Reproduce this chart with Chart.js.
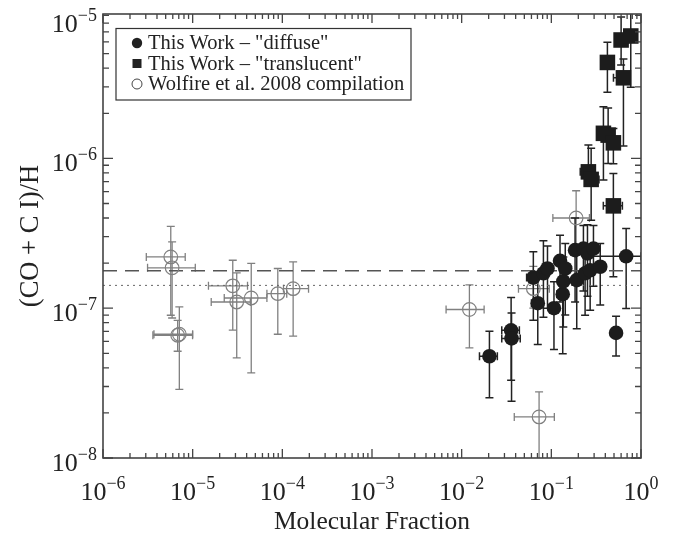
<!DOCTYPE html>
<html>
<head>
<meta charset="utf-8">
<script src="https://cdn.jsdelivr.net/npm/chart.js@4.4.0/dist/chart.umd.min.js"></script>
<style>
  html, body { margin: 0; padding: 0; background: #fff; }
  canvas { display: block; }
</style>
</head>
<body>
<canvas id="chart" width="687" height="541"></canvas>
<script>
// axis ranges
const xMin = 1e-6, xMax = 1;
const yMin = 1e-8, yMax = 9.2e-6;
const xTickExp = [-6, -5, -4, -3, -2, -1, 0];
const yTickExp = [-8, -7, -6, -5];

// This Work - "diffuse"
const diffuseX   = [2.04e-2, 3.56e-2, 3.6e-2, 7.06e-2, 0.107, 0.134, 6.3e-2, 8.16e-2, 9.06e-2, 0.125, 0.143, 0.136, 0.184, 0.228, 0.253, 0.295, 0.192, 0.238, 0.271, 0.351, 0.683, 0.527];
const diffuseY   = [4.78e-8, 7.12e-8, 6.28e-8, 1.08e-7, 1.0e-7, 1.24e-7, 1.6e-7, 1.71e-7, 1.84e-7, 2.07e-7, 1.84e-7, 1.51e-7, 2.44e-7, 2.5e-7, 2.32e-7, 2.5e-7, 1.54e-7, 1.71e-7, 1.79e-7, 1.89e-7, 2.22e-7, 6.84e-8];
const diffuseYLo = [2.52e-8, 3.3e-8, 2.39e-8, 5.72e-8, 5.3e-8, 4.97e-8, 8.3e-8, 8.7e-8, 1.0e-7, 1.1e-7, 9.0e-8, 7.5e-8, 1.1e-7, 1.3e-7, 1.2e-7, 1.4e-7, 7.3e-8, 8.97e-8, 9.7e-8, 1.05e-7, 9.95e-8, 4.8e-8];
const diffuseYHi = [7.02e-8, 1.18e-7, 9.3e-8, 1.6e-7, 1.5e-7, 1.9e-7, 2.38e-7, 2.82e-7, 2.6e-7, 3.07e-7, 2.7e-7, 2.2e-7, 4.0e-7, 3.57e-7, 3.6e-7, 3.57e-7, 2.6e-7, 2.5e-7, 2.6e-7, 2.7e-7, 3.4e-7, 8.85e-8];
const diffuseXLo = [1.58e-2, 2.8e-2, 2.8e-2, 6.0e-2, 0.107, 0.115, 5.3e-2, 8.16e-2, 9.06e-2, 0.125, 0.143, 0.136, 0.184, 0.228, 0.253, 0.295, 0.192, 0.238, 0.271, 0.351, 0.27, 0.527];
const diffuseXHi = [2.5e-2, 4.4e-2, 4.5e-2, 8.0e-2, 0.107, 0.15, 6.3e-2, 8.16e-2, 9.06e-2, 0.125, 0.143, 0.136, 0.184, 0.228, 0.253, 0.295, 0.192, 0.238, 0.271, 0.351, 1.0, 0.527];

// This Work - "translucent"
const transX   = [0.422, 0.60, 0.769, 0.637, 0.381, 0.43, 0.492, 0.492, 0.259, 0.278];
const transY   = [4.37e-6, 6.17e-6, 6.56e-6, 3.45e-6, 1.47e-6, 1.43e-6, 1.27e-6, 4.82e-7, 8.13e-7, 7.24e-7];
const transYLo = [2.76e-6, 4.2e-6, 2.98e-6, 1.21e-6, 7.16e-7, 9.24e-7, 9.2e-7, 1.62e-7, 6.8e-7, 3.86e-7];
const transYHi = [5.96e-6, 8.8e-6, 1.2e-5, 4.6e-6, 2.21e-6, 2.17e-6, 1.58e-6, 7.94e-7, 1.23e-6, 1.17e-6];
const transXLo = [0.422, 0.60, 0.769, 0.493, 0.381, 0.43, 0.492, 0.38, 0.21, 0.278];
const transXHi = [0.422, 0.60, 0.769, 0.72, 0.381, 0.43, 0.492, 0.62, 0.259, 0.34];

// Wolfire et al. 2008 compilation
const wolfX   = [5.7e-6, 5.9e-6, 6.8e-6, 7.1e-6, 2.8e-5, 3.1e-5, 4.5e-5, 8.9e-5, 1.32e-4, 1.22e-2, 6.3e-2, 7.3e-2, 0.189];
const wolfY   = [2.2e-7, 1.86e-7, 6.6e-8, 6.7e-8, 1.41e-7, 1.10e-7, 1.17e-7, 1.25e-7, 1.35e-7, 9.8e-8, 1.35e-7, 1.88e-8, 4.0e-7];
const wolfYLo = [8.97e-8, 8.6e-8, 5.16e-8, 2.87e-8, 7.13e-8, 4.66e-8, 3.7e-8, 6.7e-8, 6.5e-8, 5.43e-8, 1.0e-7, 5e-9, 2.6e-7];
const wolfYHi = [3.52e-7, 2.77e-7, 8.3e-8, 1.02e-7, 2.09e-7, 1.72e-7, 1.99e-7, 1.84e-7, 2.04e-7, 1.43e-7, 1.9e-7, 2.76e-8, 6.08e-7];
const wolfXLo = [3.04e-6, 3.14e-6, 3.6e-6, 3.7e-6, 1.5e-5, 1.61e-5, 2.25e-5, 6.73e-5, 1.03e-4, 6.7e-3, 4.3e-2, 3.86e-2, 0.104];
const wolfXHi = [8.26e-6, 1.07e-5, 9.97e-6, 1.0e-5, 4.09e-5, 4.4e-5, 6.73e-5, 1.12e-4, 1.96e-4, 1.78e-2, 9.5e-2, 0.108, 0.266];

// reference levels
const refLineX = [1e-6, 1];
const dashedLevel = 1.78e-7;
const dottedLevel = 1.42e-7;

const SERIF = "'Liberation Serif', 'Times New Roman', serif";
const INK = '#222';
const GRAY = '#808080';

function pts(xs, ys) { return xs.map((x, i) => ({x: x, y: ys[i]})); }

const errSets = [
  {x: wolfX, y: wolfY, xlo: wolfXLo, xhi: wolfXHi, ylo: wolfYLo, yhi: wolfYHi, color: GRAY, width: 1.3},
  {x: transX, y: transY, xlo: transXLo, xhi: transXHi, ylo: transYLo, yhi: transYHi, color: INK, width: 1.5},
  {x: diffuseX, y: diffuseY, xlo: diffuseXLo, xhi: diffuseXHi, ylo: diffuseYLo, yhi: diffuseYHi, color: INK, width: 1.5}
];

const errorBars = {
  id: 'errorBars',
  beforeDatasetsDraw(chart) {
    const ctx = chart.ctx, a = chart.chartArea;
    const xs = chart.scales.x, ys = chart.scales.y;
    const cap = 4;
    ctx.save();
    ctx.beginPath();
    ctx.rect(a.left, a.top, a.right - a.left, a.bottom - a.top);
    ctx.clip();
    errSets.forEach(s => {
      ctx.strokeStyle = s.color;
      ctx.lineWidth = s.width;
      s.x.forEach((xv, i) => {
        const px = xs.getPixelForValue(xv), py = ys.getPixelForValue(s.y[i]);
        const y1 = ys.getPixelForValue(s.ylo[i]), y2 = ys.getPixelForValue(s.yhi[i]);
        const x1 = xs.getPixelForValue(s.xlo[i]), x2 = xs.getPixelForValue(s.xhi[i]);
        ctx.beginPath();
        ctx.moveTo(px, y1); ctx.lineTo(px, y2);
        ctx.moveTo(px - cap, y1); ctx.lineTo(px + cap, y1);
        ctx.moveTo(px - cap, y2); ctx.lineTo(px + cap, y2);
        if (s.xlo[i] !== xv || s.xhi[i] !== xv) {
          ctx.moveTo(x1, py); ctx.lineTo(x2, py);
          if (s.xlo[i] !== xv) { ctx.moveTo(x1, py - cap); ctx.lineTo(x1, py + cap); }
          if (s.xhi[i] !== xv) { ctx.moveTo(x2, py - cap); ctx.lineTo(x2, py + cap); }
        }
        ctx.stroke();
      });
    });
    ctx.restore();
  }
};

function drawPow(ctx, exp, x, base, align) {
  const e = exp < 0 ? '\u2212' + (-exp) : String(exp);
  ctx.font = '26px ' + SERIF;
  const w10 = ctx.measureText('10').width;
  ctx.font = '18px ' + SERIF;
  const we = ctx.measureText(e).width;
  const start = align === 'right' ? x - w10 - we : x - (w10 + we) / 2;
  ctx.textAlign = 'left';
  ctx.textBaseline = 'alphabetic';
  ctx.font = '26px ' + SERIF;
  ctx.fillText('10', start, base);
  ctx.font = '18px ' + SERIF;
  ctx.fillText(e, start + w10, base - 11);
}

const frame = {
  id: 'frame',
  afterDraw(chart) {
    const ctx = chart.ctx, a = chart.chartArea;
    const xs = chart.scales.x, ys = chart.scales.y;
    ctx.save();
    // box
    ctx.strokeStyle = '#444';
    ctx.lineWidth = 1.6;
    ctx.strokeRect(a.left, a.top, a.right - a.left, a.bottom - a.top);
    // inward ticks on all four sides
    ctx.lineWidth = 1.3;
    ctx.beginPath();
    for (let e = -6; e <= 0; e++) {
      for (let m = 1; m <= 9; m++) {
        const v = m * Math.pow(10, e);
        if (v < xMin * 0.999 || v > xMax * 1.001) continue;
        const p = xs.getPixelForValue(v), len = m === 1 ? 9 : 5;
        ctx.moveTo(p, a.bottom); ctx.lineTo(p, a.bottom - len);
        ctx.moveTo(p, a.top); ctx.lineTo(p, a.top + len);
      }
    }
    for (let e = -8; e <= -5; e++) {
      for (let m = 1; m <= 9; m++) {
        const v = m * Math.pow(10, e);
        if (v < yMin * 0.999 || v > yMax * 1.001) continue;
        const p = ys.getPixelForValue(v), len = m === 1 ? 10 : 6;
        ctx.moveTo(a.left, p); ctx.lineTo(a.left + len, p);
        ctx.moveTo(a.right, p); ctx.lineTo(a.right - len, p);
      }
    }
    ctx.stroke();

    // tick labels
    ctx.fillStyle = INK;
    xTickExp.forEach(e => {
      drawPow(ctx, e, xs.getPixelForValue(Math.pow(10, e)), 500, 'center');
    });
    yTickExp.forEach(e => {
      const p = ys.getPixelForValue(Math.pow(10, e));
      drawPow(ctx, e, 97, Math.max(p + 13, a.top + 18), 'right');
    });

    // axis titles
    ctx.textAlign = 'center';
    ctx.textBaseline = 'alphabetic';
    ctx.font = '25.5px ' + SERIF;
    ctx.fillText('Molecular Fraction', (a.left + a.right) / 2, 529);
    ctx.save();
    ctx.font = '26.5px ' + SERIF;
    ctx.translate(38, (a.top + a.bottom) / 2);
    ctx.rotate(-Math.PI / 2);
    ctx.fillText('(CO + C I)/H', 0, 0);
    ctx.restore();

    // legend
    ctx.strokeStyle = '#333';
    ctx.lineWidth = 1.2;
    ctx.strokeRect(116, 28.5, 295, 71.5);
    const rows = [
      {y: 43, kind: 'dot', text: 'This Work \u2013 "diffuse"'},
      {y: 63.5, kind: 'square', text: 'This Work \u2013 "translucent"'},
      {y: 84, kind: 'ring', text: 'Wolfire et al. 2008 compilation'}
    ];
    ctx.font = '20.5px ' + SERIF;
    ctx.textAlign = 'left';
    ctx.textBaseline = 'middle';
    rows.forEach(r => {
      ctx.fillStyle = INK;
      if (r.kind === 'dot') {
        ctx.beginPath(); ctx.arc(137, r.y, 5.2, 0, Math.PI * 2); ctx.fill();
      } else if (r.kind === 'square') {
        ctx.fillRect(132.5, r.y - 4.5, 9, 9);
      } else {
        ctx.beginPath(); ctx.arc(137, r.y, 5, 0, Math.PI * 2);
        ctx.lineWidth = 1; ctx.strokeStyle = '#444'; ctx.stroke();
      }
      ctx.fillStyle = INK;
      ctx.fillText(r.text, 148, r.y + 1);
    });
    ctx.restore();
  }
};

new Chart(document.getElementById('chart'), {
  type: 'scatter',
  data: {
    datasets: [
      {
        label: 'This Work \u2013 "diffuse"',
        data: pts(diffuseX, diffuseY),
        pointStyle: 'circle', pointRadius: 7.3,
        backgroundColor: '#1c1c1c', borderColor: '#1c1c1c', borderWidth: 0
      },
      {
        label: 'This Work \u2013 "translucent"',
        data: pts(transX, transY),
        pointStyle: 'rect', pointRadius: 11,
        backgroundColor: '#1c1c1c', borderColor: '#1c1c1c', borderWidth: 0
      },
      {
        label: 'Wolfire et al. 2008 compilation',
        data: pts(wolfX, wolfY),
        pointStyle: 'circle', pointRadius: 6.8,
        backgroundColor: 'rgba(0,0,0,0)', borderColor: GRAY, borderWidth: 1.2
      },
      {
        type: 'line', label: 'dashed',
        data: pts(refLineX, [dashedLevel, dashedLevel]),
        showLine: true, pointRadius: 0, borderColor: '#555', borderWidth: 1.6,
        borderDash: [14, 8], fill: false
      },
      {
        type: 'line', label: 'dotted',
        data: pts(refLineX, [dottedLevel, dottedLevel]),
        showLine: true, pointRadius: 0, borderColor: '#666', borderWidth: 1,
        borderDash: [2, 4], fill: false
      }
    ]
  },
  options: {
    responsive: false,
    animation: false,
    events: [],
    layout: { padding: { left: 0, top: 14, right: 46, bottom: 0 } },
    scales: {
      x: {
        type: 'logarithmic', min: xMin, max: xMax,
        grid: { display: false }, border: { display: false },
        ticks: { display: false },
        afterFit(s) { s.height = 83; }
      },
      y: {
        type: 'logarithmic', min: yMin, max: yMax,
        grid: { display: false }, border: { display: false },
        ticks: { display: false },
        afterFit(s) { s.width = 103; }
      }
    },
    plugins: { legend: { display: false }, tooltip: { enabled: false } }
  },
  plugins: [errorBars, frame]
});
</script>
</body>
</html>
